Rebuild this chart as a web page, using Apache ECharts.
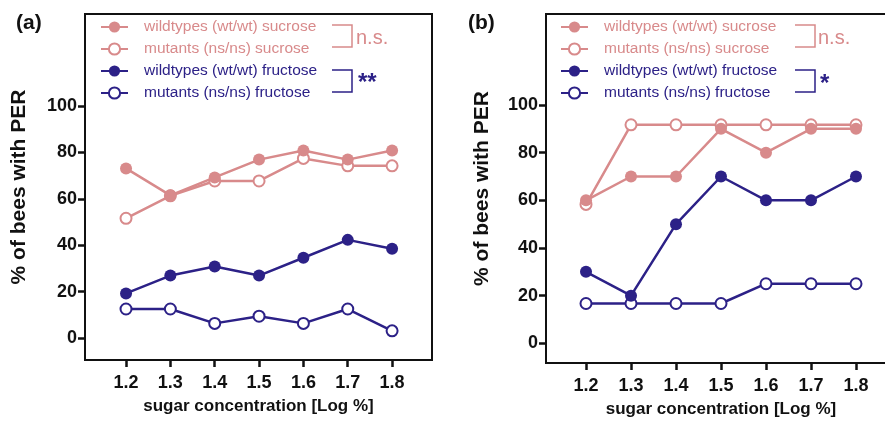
<!DOCTYPE html>
<html>
<head>
<meta charset="utf-8">
<script src="https://cdn.jsdelivr.net/npm/echarts@6/dist/echarts.min.js"></script>
<style>
html,body{margin:0;padding:0;background:#fff;}
#chart{width:885px;height:421px;}
</style>
</head>
<body>
<div id="chart"></div>
<script>
// ---- data ----
const concentrations = [1.2, 1.3, 1.4, 1.5, 1.6, 1.7, 1.8];
const yTickValues = [0, 20, 40, 60, 80, 100];
const seriesNames = ['wildtypes (wt/wt) sucrose', 'mutants (ns/ns) sucrose', 'wildtypes (wt/wt) fructose', 'mutants (ns/ns) fructose'];
const panelLabels = ['(a)', '(b)'];
const sigLabelsA = ['n.s.', '**'];
const sigLabelsB = ['n.s.', '*'];
const xAxisTitle = 'sugar concentration [Log %]';
const yAxisTitle = '% of bees with PER';

const aWtSucrose   = [73.1, 61.5, 69.2, 76.9, 80.8, 76.9, 80.8];
const aMutSucrose  = [51.6, 61.3, 67.7, 67.7, 77.4, 74.2, 74.2];
const aWtFructose  = [19.2, 26.9, 30.8, 26.9, 34.6, 42.3, 38.5];
const aMutFructose = [12.5, 12.5, 6.3, 9.4, 6.3, 12.5, 3.1];

const bWtSucrose   = [60, 70, 70, 90, 80, 90, 90];
const bMutSucrose  = [58.3, 91.7, 91.7, 91.7, 91.7, 91.7, 91.7];
const bWtFructose  = [30, 20, 50, 70, 60, 60, 70];
const bMutFructose = [16.7, 16.7, 16.7, 16.7, 25, 25, 25];

// ---- styles ----
const PINK = '#D88A8B';
const BLUE = '#2C2187';
const FONT = "'Liberation Sans', Arial, Helvetica, sans-serif";

function pairs(vals) { return concentrations.map((c, i) => [c, vals[i]]); }

function mkSeries(name, vals, color, filled, idx) {
  return {
    name: name, type: 'line', xAxisIndex: idx, yAxisIndex: idx,
    data: pairs(vals),
    symbol: filled ? 'circle' : 'emptyCircle',
    symbolSize: filled ? 12 : 11,
    showSymbol: true,
    lineStyle: { color: color, width: 2.5 },
    itemStyle: { color: color, borderColor: color, borderWidth: filled ? 0 : 2.5 },
    z: filled ? 3 : 2,
    silent: true,
    animation: false
  };
}

function mkXAxis(idx, min, max) {
  return {
    type: 'value', gridIndex: idx, min: min, max: max,
    axisLine: { show: true, onZero: false, lineStyle: { color: '#111', width: 2 } },
    splitLine: { show: false },
    axisTick: { show: true, customValues: concentrations, length: 7, lineStyle: { color: '#111', width: 2.5 } },
    axisLabel: { customValues: concentrations, formatter: v => v.toFixed(1), color: '#111', fontFamily: FONT, fontWeight: 'bold', fontSize: 18, margin: 14 },
    name: xAxisTitle, nameLocation: 'middle', nameGap: 38,
    nameTextStyle: { color: '#111', fontFamily: FONT, fontWeight: 'bold', fontSize: 17 }
  };
}

function mkYAxis(idx, min, max, gap) {
  return {
    type: 'value', gridIndex: idx, min: min, max: max,
    axisLine: { show: true, onZero: false, lineStyle: { color: '#111', width: 2 } },
    splitLine: { show: false },
    axisTick: { show: true, customValues: yTickValues, length: 7, lineStyle: { color: '#111', width: 2.5 } },
    axisLabel: { customValues: yTickValues, color: '#111', fontFamily: FONT, fontWeight: 'bold', fontSize: 18, margin: 8 },
    name: yAxisTitle, nameLocation: 'middle', nameGap: gap, nameRotate: 90,
    nameTextStyle: { color: '#111', fontFamily: FONT, fontWeight: 'bold', fontSize: 21 }
  };
}

function mkLegend(left) {
  const colors = [PINK, PINK, BLUE, BLUE];
  return {
    orient: 'vertical', left: left, top: 14,
    itemWidth: 27, itemHeight: 14, itemGap: 6,
    selectedMode: false,
    data: seriesNames.map((n, i) => ({ name: n, textStyle: { color: colors[i] } })),
    textStyle: { fontFamily: FONT, fontSize: 15.5, padding: [0, 0, 0, 11] }
  };
}

function bracket(x1, x2, y1, y2, color) {
  return {
    type: 'polyline', silent: true,
    shape: { points: [[x1, y1], [x2, y1], [x2, y2], [x1, y2]] },
    style: { stroke: color, lineWidth: 1.5, fill: null }
  };
}

function txt(x, y, text, color, size, weight, align) {
  return {
    type: 'text', x: x, y: y, silent: true,
    style: { text: text, fill: color, font: (weight || 'normal') + ' ' + size + 'px ' + FONT, textAlign: align || 'left', textVerticalAlign: 'middle' }
  };
}

const chart = echarts.init(document.getElementById('chart'), null, { renderer: 'canvas' });
chart.setOption({
  animation: false,
  backgroundColor: '#fff',
  grid: [
    { left: 85, top: 14, width: 347, height: 346, show: true, borderColor: '#111', borderWidth: 2, backgroundColor: 'transparent', outerBoundsMode: 'none' },
    { left: 546, top: 14, width: 350, height: 349, show: true, borderColor: '#111', borderWidth: 2, backgroundColor: 'transparent', outerBoundsMode: 'none' }
  ],
  xAxis: [mkXAxis(0, 1.1075, 1.890), mkXAxis(1, 1.1111, 1.8889)],
  yAxis: [mkYAxis(0, -9.48, 139.66, 55), mkYAxis(1, -8.27, 138.2, 53)],
  legend: [mkLegend(95), mkLegend(555)],
  series: [
    mkSeries(seriesNames[1], aMutSucrose, PINK, false, 0),
    mkSeries(seriesNames[0], aWtSucrose, PINK, true, 0),
    mkSeries(seriesNames[3], aMutFructose, BLUE, false, 0),
    mkSeries(seriesNames[2], aWtFructose, BLUE, true, 0),
    mkSeries(seriesNames[1], bMutSucrose, PINK, false, 1),
    mkSeries(seriesNames[0], bWtSucrose, PINK, true, 1),
    mkSeries(seriesNames[3], bMutFructose, BLUE, false, 1),
    mkSeries(seriesNames[2], bWtFructose, BLUE, true, 1)
  ],
  graphic: [
    txt(16, 23, panelLabels[0], '#111', 21, 'bold'),
    txt(468, 23, panelLabels[1], '#111', 21, 'bold'),
    bracket(332, 352, 25, 47, PINK),
    txt(356, 38, sigLabelsA[0], PINK, 20),
    bracket(332, 352, 70, 92, BLUE),
    txt(358, 83, sigLabelsA[1], BLUE, 24, 'bold'),
    bracket(795, 815, 25, 47, PINK),
    txt(818, 38, sigLabelsB[0], PINK, 20),
    bracket(795, 815, 70, 92, BLUE),
    txt(820, 84, sigLabelsB[1], BLUE, 24, 'bold')
  ]
});
</script>
</body>
</html>
